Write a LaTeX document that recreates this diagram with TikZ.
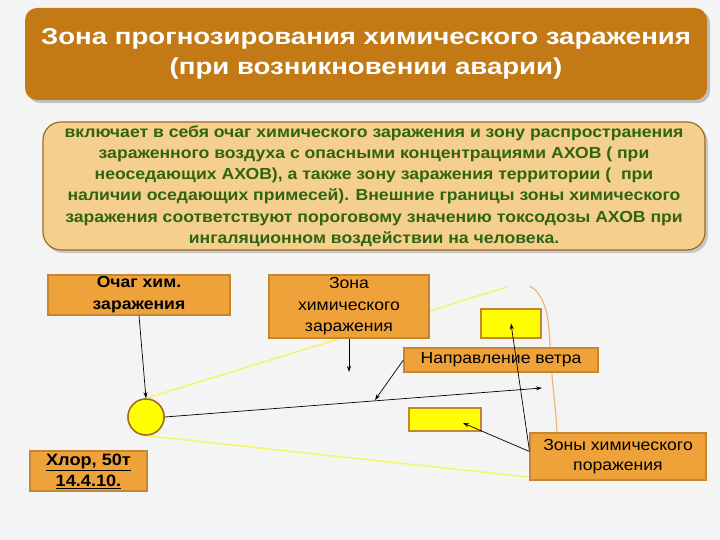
\documentclass[tikz,border=0pt]{standalone}
\usepackage{fontspec}
\setmainfont{Liberation Sans}[FakeStretch=1.1]
\newfontfamily\titlefont{Liberation Sans}[FakeStretch=1.2]
\usetikzlibrary{calc,arrows.meta}
\definecolor{bg}{HTML}{F4F4F4}
\definecolor{titlefill}{HTML}{C47A14}
\definecolor{descfill}{HTML}{F5CF8E}
\definecolor{descdraw}{HTML}{9E6A22}
\definecolor{descText}{HTML}{2F6510}
\definecolor{boxfill}{HTML}{F0A23A}
\definecolor{boxdraw}{HTML}{C4862E}
\definecolor{ylw}{HTML}{FFFF00}
\definecolor{ylwline}{HTML}{F4F46E}
\definecolor{curve}{HTML}{F0B57A}
\tikzset{
  obox/.style={draw=boxdraw, fill=boxfill, line width=1.2pt, inner sep=0pt, align=center, font=\fontsize{16}{21.5}\selectfont},
  ybox/.style={draw=boxdraw, fill=ylw, line width=1.2pt, inner sep=0pt},
  arr/.style={-{Stealth[length=6pt,width=4pt]}, line width=0.7pt, black},
  yline/.style={draw=ylwline, line width=1.6pt},
  srcdot/.style={circle, draw=boxdraw!80!black, fill=ylw, line width=1.4pt, minimum size=36pt, inner sep=0pt},
}
\begin{document}
\begin{tikzpicture}[x=1pt,y=-1pt]
\fill[bg] (0,0) rectangle (720,540);
\useasboundingbox (0,0) rectangle (720,540);
% title
\fill[black!25, rounded corners=12pt] (28,11) rectangle (710,103);
\node[fill=titlefill, rounded corners=12pt, minimum width=682pt, minimum height=92pt, inner sep=0pt, align=center, text=white, font=\titlefont\fontsize{23}{30}\selectfont\bfseries] (title) at (366,54) {Зона прогнозирования химического заражения\\(при возникновении аварии)};
% description
\fill[black!22, rounded corners=18pt] (45,125) rectangle (708,253);
\node[draw=descdraw, fill=descfill, line width=1.2pt, rounded corners=18pt, minimum width=662pt, minimum height=128pt, inner sep=0pt, align=center, text=descText, font=\fontsize{16}{21.2}\selectfont\bfseries] (desc) at (374,186) {включает в себя очаг химического заражения и зону распространения\\зараженного воздуха с опасными концентрациями АХОВ ( при\\неоседающих АХОВ), а также зону заражения территории (\ \ при\\наличии оседающих примесей). Внешние границы зоны химического\\заражения соответствуют пороговому значению токсодозы АХОВ при\\ингаляционном воздействии на человека.};
% lines (behind boxes)
\node[srcdot] (circ) at (146,417) {};
\coordinate (ytop) at (507,287);
\coordinate (ybot) at (528,477);
\draw[yline] (circ.north) -- (ytop);
\draw[yline] (circ.south) -- (ybot);
\draw[curve, line width=1.2pt] (530,286) .. controls (547,296) and (549,322) .. (550,345) .. controls (552,385) and (556,410) .. (557,432);
% boxes
\node[obox, minimum width=182pt, minimum height=40pt, font=\fontsize{16}{22}\selectfont\bfseries] (ochag) at (139,295) {Очаг хим.\\заражения};
\node[obox, minimum width=160pt, minimum height=63pt] (zona) at (349,306.5) {Зона\\химического\\заражения};
\node[obox, minimum width=194pt, minimum height=24pt] (napr) at (501,360) {Направление ветра};
\node[ybox, minimum width=60pt, minimum height=29pt] (y1) at (511,323.5) {};
\node[ybox, minimum width=72pt, minimum height=23pt] (y2) at (445,419.5) {};
\node[obox, minimum width=176pt, minimum height=47pt, font=\fontsize{16}{20}\selectfont] (zony) at (618,456.5) {Зоны химического\\поражения};
\node[obox, minimum width=117pt, minimum height=40pt, font=\fontsize{16.5}{21}\selectfont\bfseries] (chlor) at (88.5,471) {\underline{Хлор, 50т}\\\underline{14.4.10.}};
% redraw circle on top
\node[srcdot] at (146,417) {};
% arrows
\coordinate (windend) at (542,388);
\coordinate (zonaend) at (349,372);
\coordinate (naprend) at (375,400);
\coordinate (y2end) at (463,423);
\draw[arr] (circ.east) -- (windend);
\draw[arr] (ochag.south) -- (circ.north);
\draw[arr] (zona.south) -- (zonaend);
\draw[arr] (napr.west) -- (naprend);
\draw[arr] ($(zony.west)+(0,-6)$) -- (y1.center);
\draw[arr] ($(zony.west)+(0,-5)$) -- (y2end);
\end{tikzpicture}
\end{document}
